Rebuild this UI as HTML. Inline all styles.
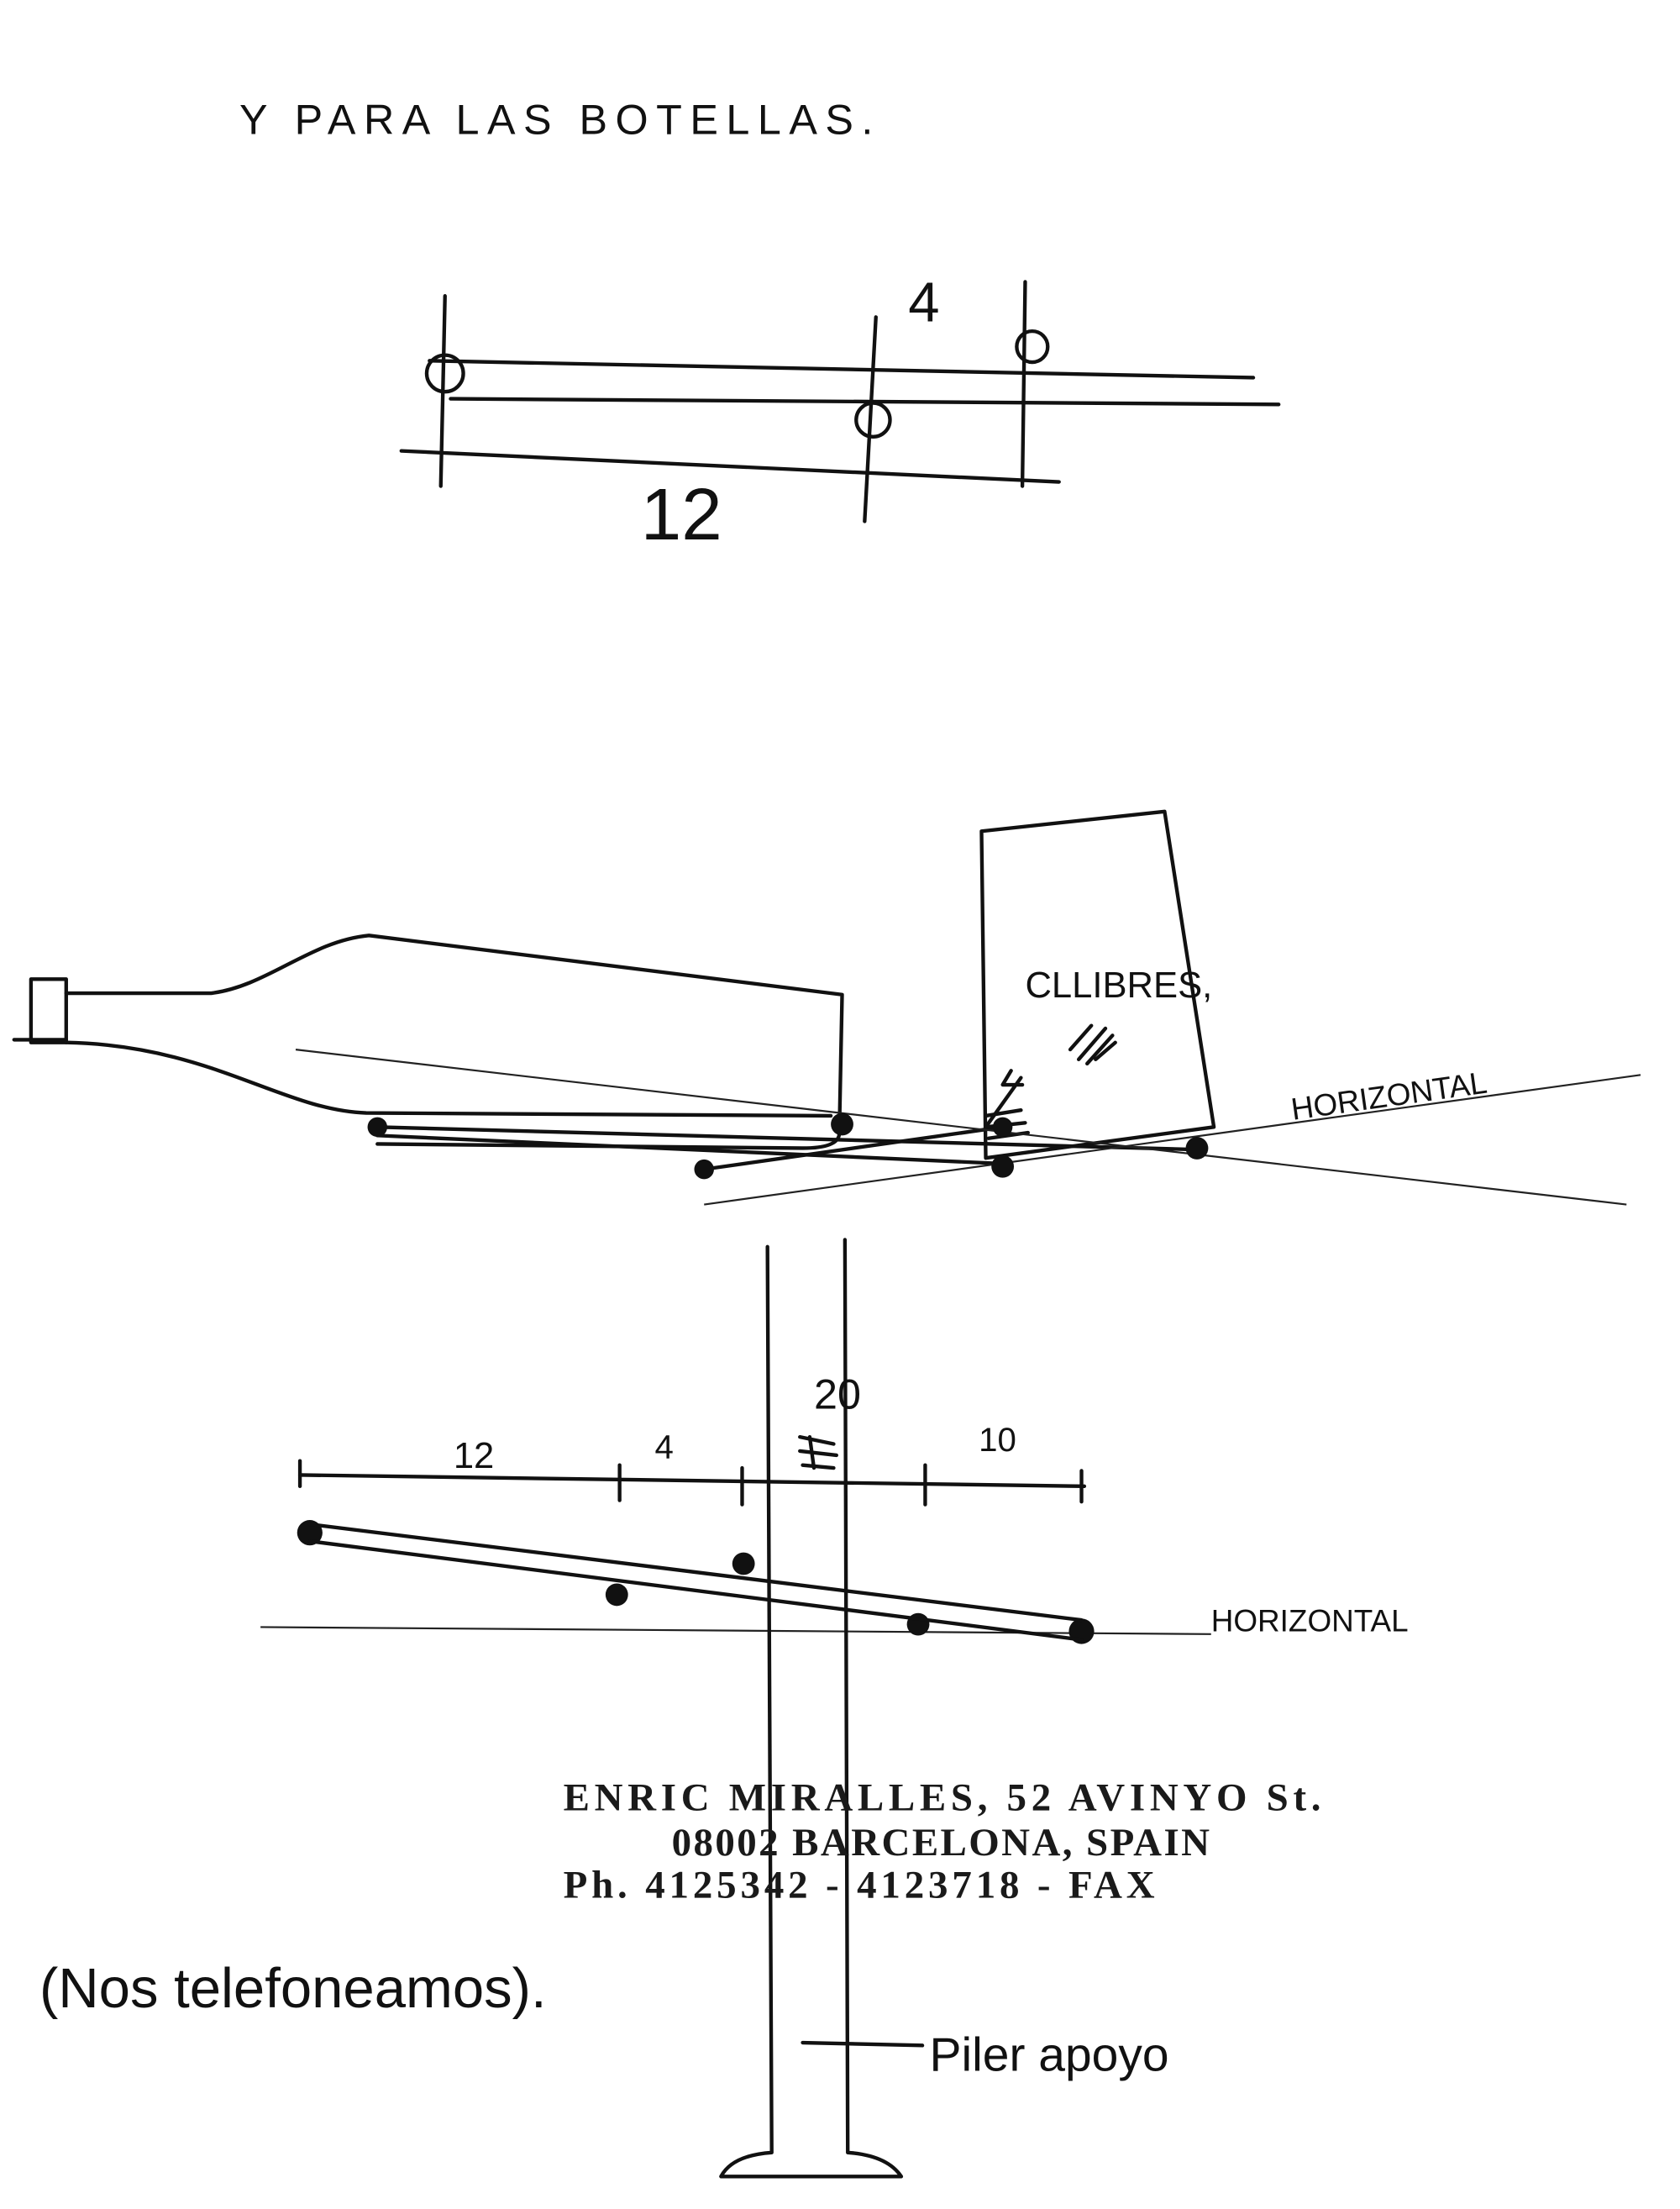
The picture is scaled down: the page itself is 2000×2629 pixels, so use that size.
<!DOCTYPE html>
<html><head><meta charset="utf-8"><style>
html,body{margin:0;padding:0;background:#fff}
svg{display:block}
.h{font-family:"Liberation Sans",sans-serif;fill:#111}
.p{font-family:"Liberation Serif",serif;font-weight:bold;fill:#1a1a1a}
</style></head><body>
<svg width="2000" height="2629" viewBox="0 0 1193 1568" xmlns="http://www.w3.org/2000/svg">
<rect width="1193" height="1568" fill="#fff"/>
<g fill="none" stroke="#111" stroke-width="2.6" stroke-linecap="round" stroke-linejoin="round">
<line x1="316" y1="210" x2="313" y2="345"/>
<line x1="305" y1="256" x2="890" y2="268"/>
<line x1="320" y1="283" x2="908" y2="287"/>
<circle cx="316" cy="265" r="13"/>
<circle cx="620" cy="298" r="12"/>
<circle cx="733" cy="246" r="11"/>
<line x1="622" y1="225" x2="614" y2="370"/>
<line x1="728" y1="200" x2="726" y2="345"/>
<line x1="285" y1="320" x2="752" y2="342"/>
<rect x="22" y="695" width="25" height="45"/>
<path d="M10 738 L47 738"/>
<path d="M47 705 L150 705 C190 700 220 668 262 664 L598 706 L596 805 Q595 815 570 815 L268 812"/>
<path d="M47 740 C150 742 200 788 260 790 L590 792"/>
<path d="M697 590 L827 576 L862 800 L700 822 Z"/>
<path d="M700 800 L725 765 M718 760 L712 770 L726 770"/>
<path d="M760 745 L775 728 M766 752 L785 730 M772 755 L790 735 M778 752 L792 740"/>
<path d="M700 792 L725 788 M700 800 L728 797 M702 808 L730 804"/>
<line x1="268" y1="800" x2="850" y2="816"/>
<line x1="268" y1="806" x2="712" y2="826"/>
<line x1="500" y1="830" x2="712" y2="800"/>
</g>
<g stroke="#222" stroke-width="1.3" fill="none">
<line x1="210" y1="745" x2="1155" y2="855"/>
<line x1="500" y1="855" x2="1165" y2="763"/>
<line x1="185" y1="1155" x2="860" y2="1160"/>
</g>
<g fill="#111">
<circle cx="268" cy="800" r="7"/><circle cx="598" cy="798" r="8"/><circle cx="500" cy="830" r="7"/>
<circle cx="712" cy="800" r="7"/><circle cx="712" cy="828" r="8"/><circle cx="850" cy="815" r="8"/>
<circle cx="220" cy="1088" r="9"/><circle cx="438" cy="1132" r="8"/><circle cx="528" cy="1110" r="8"/>
<circle cx="652" cy="1153" r="8"/><circle cx="768" cy="1158" r="9"/>
</g>
<g fill="none" stroke="#111" stroke-width="2.6" stroke-linecap="round" stroke-linejoin="round">
<line x1="213" y1="1047" x2="770" y2="1055"/>
<line x1="213" y1="1037" x2="213" y2="1055"/>
<line x1="440" y1="1040" x2="440" y2="1065"/>
<line x1="527" y1="1042" x2="527" y2="1068"/>
<line x1="657" y1="1040" x2="657" y2="1068"/>
<line x1="768" y1="1044" x2="768" y2="1066"/>
<path d="M220 1082 L768 1150 M220 1094 L768 1164"/>
<path d="M545 885 L548 1528 Q520 1530 512 1545 L640 1545 Q630 1530 602 1528 L600 880"/>
<line x1="570" y1="1450" x2="655" y2="1452"/>
<path d="M568 1020 L592 1025 M568 1030 L594 1033 M570 1040 L592 1042 M575 1020 L578 1042"/>
</g>
<g class="h">
<text x="170" y="95" font-size="30" textLength="450" lengthAdjust="spacing">Y  PARA   LAS  BOTELLAS.</text>
<text x="645" y="228" font-size="40">4</text>
<text x="455" y="383" font-size="52">12</text>
<text x="728" y="708" font-size="26">CLLIBRES,</text>
<text x="918" y="795" font-size="22" transform="rotate(-8 918 795)">HORIZONTAL</text>
<text x="322" y="1042" font-size="26">12</text>
<text x="465" y="1035" font-size="24">4</text>
<text x="578" y="1000" font-size="30">20</text>
<text x="695" y="1030" font-size="24">10</text>
<text x="860" y="1158" font-size="22">HORIZONTAL</text>
<text x="28" y="1425" font-size="40">(Nos  telefoneamos).</text>
<text x="660" y="1470" font-size="34">Piler apoyo</text>
</g>
<g class="p">
<text x="400" y="1285" font-size="28" textLength="538" lengthAdjust="spacing">ENRIC  MIRALLES,  52  AVINYO  St.</text>
<text x="477" y="1317" font-size="28" textLength="382" lengthAdjust="spacing">08002 BARCELONA, SPAIN</text>
<text x="400" y="1347" font-size="28" textLength="420" lengthAdjust="spacing">Ph. 4125342  -  4123718  -  FAX</text>
</g>
</svg>
</body></html>
